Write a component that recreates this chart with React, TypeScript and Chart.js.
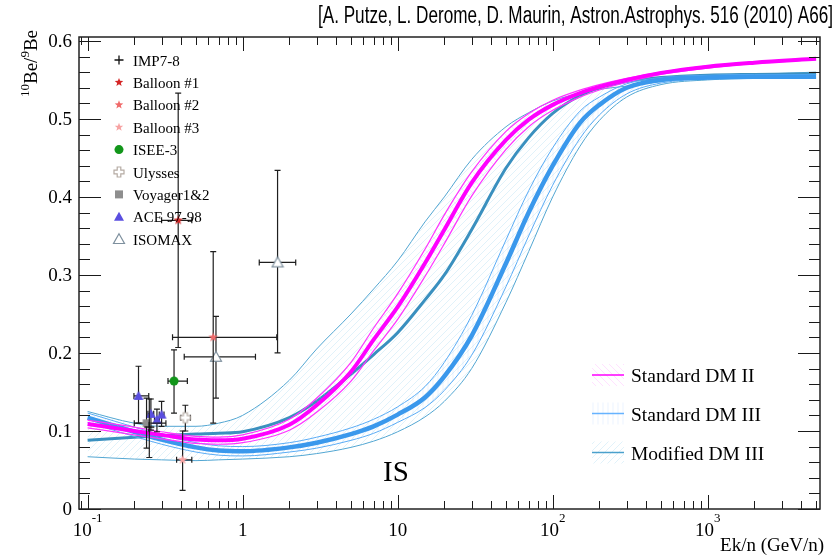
import React, { useEffect, useRef } from 'react';
import { Chart, registerables } from 'chart.js';
Chart.register(...registerables);

// ---------- model curves (Ek/n in GeV/n) ----------
const energies = [0.1, 0.2, 0.3, 0.5, 0.7, 1, 2, 3, 5, 7, 10, 15, 20, 30, 50, 70, 100, 150, 200, 300, 500, 1000, 2000, 5000];

const dm2Mid = [0.109, 0.100, 0.095, 0.089, 0.088, 0.090, 0.108, 0.133, 0.176, 0.217, 0.259, 0.315, 0.358, 0.418, 0.473, 0.499, 0.518, 0.533, 0.541, 0.550, 0.559, 0.567, 0.572, 0.577];
const dm2Up = [0.114, 0.105, 0.099, 0.093, 0.092, 0.095, 0.115, 0.142, 0.188, 0.232, 0.276, 0.333, 0.377, 0.432, 0.484, 0.507, 0.524, 0.537, 0.544, 0.552, 0.560, 0.568, 0.573, 0.578];
const dm2Low = [0.104, 0.095, 0.090, 0.084, 0.083, 0.085, 0.101, 0.124, 0.164, 0.203, 0.243, 0.298, 0.340, 0.401, 0.461, 0.490, 0.511, 0.528, 0.537, 0.547, 0.557, 0.565, 0.571, 0.576];

const dm3Mid = [0.117, 0.099, 0.089, 0.079, 0.075, 0.074, 0.079, 0.085, 0.096, 0.106, 0.121, 0.143, 0.170, 0.222, 0.315, 0.380, 0.440, 0.495, 0.518, 0.540, 0.550, 0.553, 0.554, 0.554];
const dm3Up = [0.123, 0.105, 0.095, 0.085, 0.081, 0.080, 0.085, 0.092, 0.104, 0.115, 0.131, 0.157, 0.188, 0.248, 0.345, 0.408, 0.463, 0.510, 0.528, 0.545, 0.553, 0.556, 0.557, 0.557];
const dm3Low = [0.111, 0.093, 0.083, 0.073, 0.069, 0.068, 0.073, 0.078, 0.088, 0.097, 0.111, 0.130, 0.152, 0.197, 0.285, 0.350, 0.415, 0.475, 0.505, 0.532, 0.546, 0.551, 0.552, 0.552];

const modMid = [0.088, 0.092, 0.094, 0.096, 0.097, 0.099, 0.117, 0.138, 0.173, 0.198, 0.226, 0.268, 0.300, 0.358, 0.437, 0.476, 0.507, 0.530, 0.540, 0.548, 0.553, 0.556, 0.557, 0.558];
const modUp = [0.125, 0.110, 0.106, 0.106, 0.110, 0.120, 0.165, 0.205, 0.250, 0.282, 0.318, 0.368, 0.400, 0.448, 0.490, 0.508, 0.523, 0.533, 0.538, 0.542, 0.548, 0.554, 0.557, 0.560];
const modLow = [0.067, 0.064, 0.063, 0.062, 0.063, 0.064, 0.067, 0.071, 0.079, 0.087, 0.099, 0.118, 0.138, 0.180, 0.265, 0.330, 0.400, 0.465, 0.498, 0.528, 0.544, 0.550, 0.552, 0.553];

// ---------- measurements ----------
const impE = [0.25]; const impV = [0.105]; const impElo = [0.25]; const impEhi = [0.25]; const impVlo = [0.066]; const impVhi = [0.141];
const b1E = [0.384]; const b1V = [0.370]; const b1Elo = [0.30]; const b1Ehi = [0.47]; const b1Vlo = [0.207]; const b1Vhi = [0.533];
const b2E = [0.646]; const b2V = [0.220]; const b2Elo = [0.353]; const b2Ehi = [1.66]; const b2Vlo = [0.110]; const b2Vhi = [0.330];
const b3E = [0.41]; const b3V = [0.063]; const b3Elo = [0.375]; const b3Ehi = [0.47]; const b3Vlo = [0.024]; const b3Vhi = [0.100];
const iseeE = [0.361]; const iseeV = [0.164]; const iseeElo = [0.33]; const iseeEhi = [0.44]; const iseeVlo = [0.123]; const iseeVhi = [0.204];
const ulyE = [0.427]; const ulyV = [0.117]; const ulyElo = [0.40]; const ulyEhi = [0.46]; const ulyVlo = [0.100]; const ulyVhi = [0.133];
const voyE = [0.24]; const voyV = [0.110]; const voyElo = [0.20]; const voyEhi = [0.32]; const voyVlo = [0.078]; const voyVhi = [0.142];
const aceE = [0.213, 0.256, 0.280, 0.300]; const aceV = [0.145, 0.122, 0.114, 0.121];
const aceElo = [0.199, 0.245, 0.270, 0.290]; const aceEhi = [0.248, 0.267, 0.290, 0.311];
const aceVlo = [0.110, 0.101, 0.099, 0.106]; const aceVhi = [0.183, 0.141, 0.128, 0.138];
const isoE = [0.673, 1.68]; const isoV = [0.195, 0.316]; const isoElo = [0.42, 1.28]; const isoEhi = [1.21, 2.2]; const isoVlo = [0.142, 0.200]; const isoVhi = [0.247, 0.434];

const xTickLabels = [{ v: 0.1, base: '10', sup: '-1' }, { v: 1, base: '1', sup: '' }, { v: 10, base: '10', sup: '' }, { v: 100, base: '10', sup: '2' }, { v: 1000, base: '10', sup: '3' }];
const yTickLabels = ['0', '0.1', '0.2', '0.3', '0.4', '0.5', '0.6'];
const titleText = '[A. Putze, L. Derome, D. Maurin, Astron.Astrophys. 516 (2010) A66]';
const modelNames = ['Standard DM II', 'Standard DM III', 'Modified DM III'];
const expNames = ['IMP7-8', 'Balloon #1', 'Balloon #2', 'Balloon #3', 'ISEE-3', 'Ulysses', 'Voyager1&2', 'ACE 97-98', 'ISOMAX'];

const SERIF = '"Liberation Serif", "DejaVu Serif", serif';

// ---------- marker painters ----------
type G = CanvasRenderingContext2D;
const star = (c: string, R: number) => (g: G, x: number, y: number) => {
  g.beginPath();
  for (let i = 0; i < 10; i++) {
    const r = i % 2 === 0 ? R : R * 0.42;
    const a = -Math.PI / 2 + (i * Math.PI) / 5;
    const px = x + r * Math.cos(a), py = y + r * Math.sin(a);
    if (i) g.lineTo(px, py); else g.moveTo(px, py);
  }
  g.closePath(); g.fillStyle = c; g.fill();
};
const tri = (fill: string | null, stroke: string | null, s: number) => (g: G, x: number, y: number) => {
  g.beginPath(); g.moveTo(x, y - s); g.lineTo(x + s, y + s * 0.78); g.lineTo(x - s, y + s * 0.78); g.closePath();
  if (fill) { g.fillStyle = fill; g.fill(); }
  if (stroke) { g.strokeStyle = stroke; g.lineWidth = 1.2; g.stroke(); }
};
const circ = (c: string, r: number) => (g: G, x: number, y: number) => {
  g.beginPath(); g.arc(x, y, r, 0, Math.PI * 2); g.fillStyle = c; g.fill();
};
const square = (c: string, h: number) => (g: G, x: number, y: number) => {
  g.fillStyle = c; g.fillRect(x - h, y - h, 2 * h, 2 * h);
};
const openCross = (c: string, s: number, w: number) => (g: G, x: number, y: number) => {
  g.beginPath();
  g.moveTo(x - w, y - s); g.lineTo(x + w, y - s); g.lineTo(x + w, y - w); g.lineTo(x + s, y - w);
  g.lineTo(x + s, y + w); g.lineTo(x + w, y + w); g.lineTo(x + w, y + s); g.lineTo(x - w, y + s);
  g.lineTo(x - w, y + w); g.lineTo(x - s, y + w); g.lineTo(x - s, y - w); g.lineTo(x - w, y - w); g.closePath();
  g.fillStyle = '#fff'; g.fill(); g.strokeStyle = c; g.lineWidth = 1.2; g.stroke();
};
const plus = (c: string, s: number) => (g: G, x: number, y: number) => {
  g.beginPath(); g.moveTo(x - s, y); g.lineTo(x + s, y); g.moveTo(x, y - s); g.lineTo(x, y + s);
  g.strokeStyle = c; g.lineWidth = 1.3; g.stroke();
};

const makeImg = (paint: (g: G, x: number, y: number) => void, size: number) => {
  const c = document.createElement('canvas'); c.width = size; c.height = size;
  const g = c.getContext('2d') as G; paint(g, size / 2, size / 2); return c;
};

const hatch = (ctx: G, color: string, kind: string, p: number) => {
  const c = document.createElement('canvas'); c.width = p; c.height = p;
  const g = c.getContext('2d') as G; g.strokeStyle = color; g.lineWidth = 1; g.beginPath();
  if (kind === 'v') { g.moveTo(p / 2 + 0.5, 0); g.lineTo(p / 2 + 0.5, p); }
  else if (kind === '/') { g.moveTo(-1, p + 1); g.lineTo(p + 1, -1); g.moveTo(-1, 1); g.lineTo(1, -1); g.moveTo(p - 1, p + 1); g.lineTo(p + 1, p - 1); }
  else { g.moveTo(-1, -1); g.lineTo(p + 1, p + 1); g.moveTo(p - 1, -1); g.lineTo(p + 1, 1); g.moveTo(-1, p - 1); g.lineTo(1, p + 1); }
  g.stroke();
  return ctx.createPattern(c, 'repeat') as CanvasPattern;
};

const pts = (E: number[], V: number[]) => E.map((e, i) => ({ x: e, y: V[i] }));

export default function App() {
  const ref = useRef<HTMLCanvasElement>(null);
  useEffect(() => {
    const canvas = ref.current!;
    const ctx = canvas.getContext('2d') as G;
    const MAG = '#ff00ff', MAGT = '#ff33ff';
    const BLU = '#3a98ec', BLUT = '#5aacf5';
    const TEA = '#3a90bf', TEAT = '#52a6d2';
    const patMag = hatch(ctx, 'rgba(255,120,255,0.22)', '\\', 7);
    const patBlu = hatch(ctx, 'rgba(120,175,255,0.15)', 'v', 5);
    const patTea = hatch(ctx, 'rgba(120,195,230,0.22)', '/', 7);

    const mk = {
      imp: plus('#111', 5), b1: star('#d42525', 5), b2: star('#f06a6a', 5), b3: star('#f7a3a3', 5),
      isee: circ('#12961a', 4.5), uly: openCross('#b5aba3', 5, 2), voy: square('#8e8e8e', 3.8),
      ace: tri('#5a4ee0', null, 5), iso: tri('#ffffff', '#7e909e', 5.5),
    };
    const legendPainters = [plus('#111', 4.5), star('#d42525', 4.5), star('#f06a6a', 4.5), star('#f7a3a3', 4.5),
      circ('#12961a', 4.5), openCross('#b5aba3', 5, 1.8), square('#8e8e8e', 4), tri('#5a4ee0', null, 5), tri('#ffffff', '#7e909e', 5.5)];

    const line = (label: string, data: number[], color: string, w: number, order: number, fill: any = false, bg: any = undefined) => ({
      type: 'line', label, data: pts(energies, data), borderColor: color, borderWidth: w, pointRadius: 0,
      cubicInterpolationMode: 'monotone', fill, backgroundColor: bg, order, borderJoinStyle: 'round',
    });
    const scat = (label: string, E: number[], V: number[], paint: any, err: any) => ({
      type: 'scatter', label, data: pts(E, V), pointStyle: makeImg(paint, 14), pointRadius: 5, order: 0, errors: err,
    });

    const datasets: any[] = [
      line('Modified DM III upper', modUp, TEAT, 1, 6, '+2', patTea),
      line('Modified DM III', modMid, TEA, 3, 5),
      line('Modified DM III lower', modLow, TEAT, 1, 6),
      line('Standard DM III upper', dm3Up, BLUT, 1, 4, '+2', patBlu),
      line('Standard DM III', dm3Mid, BLU, 4.5, 3),
      line('Standard DM III lower', dm3Low, BLUT, 1, 4),
      line('Standard DM II upper', dm2Up, MAGT, 1.2, 2, '+2', patMag),
      line('Standard DM II', dm2Mid, MAG, 4, 1),
      line('Standard DM II lower', dm2Low, MAGT, 1.2, 2),
      scat('IMP7-8', impE, impV, mk.imp, [impElo, impEhi, impVlo, impVhi]),
      scat('Voyager1&2', voyE, voyV, mk.voy, [voyElo, voyEhi, voyVlo, voyVhi]),
      scat('ACE 97-98', aceE, aceV, mk.ace, [aceElo, aceEhi, aceVlo, aceVhi]),
      scat('Balloon #1', b1E, b1V, mk.b1, [b1Elo, b1Ehi, b1Vlo, b1Vhi]),
      scat('Balloon #2', b2E, b2V, mk.b2, [b2Elo, b2Ehi, b2Vlo, b2Vhi]),
      scat('Balloon #3', b3E, b3V, mk.b3, [b3Elo, b3Ehi, b3Vlo, b3Vhi]),
      scat('ISEE-3', iseeE, iseeV, mk.isee, [iseeElo, iseeEhi, iseeVlo, iseeVhi]),
      scat('Ulysses', ulyE, ulyV, mk.uly, [ulyElo, ulyEhi, ulyVlo, ulyVhi]),
      scat('ISOMAX', isoE, isoV, mk.iso, [isoElo, isoEhi, isoVlo, isoVhi]),
    ];

    const errPlugin = {
      id: 'errbars',
      beforeDatasetDraw(chart: any, args: any) {
        const ds = chart.data.datasets[args.index];
        if (!ds.errors) return;
        const [elo, ehi, vlo, vhi] = ds.errors;
        const { x, y } = chart.scales; const g = chart.ctx; const a = chart.chartArea;
        g.save(); g.beginPath(); g.rect(a.left, a.top, a.right - a.left, a.bottom - a.top); g.clip();
        g.strokeStyle = '#1e1e1e'; g.lineWidth = 1.2; g.beginPath();
        ds.data.forEach((p: any, i: number) => {
          const px = x.getPixelForValue(p.x), py = y.getPixelForValue(p.y);
          const x0 = x.getPixelForValue(elo[i]), x1 = x.getPixelForValue(ehi[i]);
          const y0 = y.getPixelForValue(vlo[i]), y1 = y.getPixelForValue(vhi[i]);
          if (x1 - x0 > 1) {
            g.moveTo(x0, py); g.lineTo(x1, py);
            g.moveTo(x0, py - 3); g.lineTo(x0, py + 3); g.moveTo(x1, py - 3); g.lineTo(x1, py + 3);
          }
          g.moveTo(px, y0); g.lineTo(px, y1);
          g.moveTo(px - 3, y0); g.lineTo(px + 3, y0); g.moveTo(px - 3, y1); g.lineTo(px + 3, y1);
        });
        g.stroke(); g.restore();
      },
    };

    const framePlugin = {
      id: 'frame',
      afterDraw(chart: any) {
        const g: G = chart.ctx; const a = chart.chartArea; const { x, y } = chart.scales;
        g.save();
        // ticks
        g.strokeStyle = '#1a1a1a'; g.lineWidth = 1; g.beginPath();
        for (let d = -2; d <= 3; d++) {
          for (let m = 1; m <= 9; m++) {
            const v = m * Math.pow(10, d);
            if (v < x.min || v > x.max) continue;
            const px = Math.round(x.getPixelForValue(v)) + 0.5;
            const len = m === 1 ? 14 : 8;
            g.moveTo(px, a.bottom); g.lineTo(px, a.bottom - len);
            g.moveTo(px, a.top); g.lineTo(px, a.top + len);
          }
        }
        for (let i = 0; i <= 30; i++) {
          const v = i * 0.02; if (v > y.max) break;
          const py = Math.round(y.getPixelForValue(v)) + 0.5;
          const len = i % 5 === 0 ? 22 : 11;
          g.moveTo(a.left, py); g.lineTo(a.left + len, py);
          g.moveTo(a.right, py); g.lineTo(a.right - len, py);
        }
        g.stroke();
        g.lineWidth = 1.5; g.strokeStyle = '#222';
        g.strokeRect(a.left, a.top, a.right - a.left, a.bottom - a.top);

        g.fillStyle = '#000';
        // y tick labels
        g.font = `19px ${SERIF}`; g.textAlign = 'right'; g.textBaseline = 'middle';
        yTickLabels.forEach((t, i) => g.fillText(t, a.left - 7, y.getPixelForValue(i * 0.1) + 1));
        // x tick labels
        g.textBaseline = 'alphabetic';
        xTickLabels.forEach((t) => {
          g.font = `19px ${SERIF}`; const wb = g.measureText(t.base).width;
          g.font = `13px ${SERIF}`; const ws = t.sup ? g.measureText(t.sup).width : 0;
          const cx = x.getPixelForValue(t.v); const left = cx - (wb + ws) / 2;
          g.textAlign = 'left';
          g.font = `19px ${SERIF}`; g.fillText(t.base, left, 536);
          if (t.sup) { g.font = `13px ${SERIF}`; g.fillText(t.sup, left + wb, 522); }
        });
        // x title
        g.font = `19px ${SERIF}`; g.textAlign = 'right'; g.fillText('Ek/n (GeV/n)', 824, 551);
        // y title (rotated)
        g.save(); g.translate(37, 97); g.rotate(-Math.PI / 2); g.textAlign = 'left';
        let cx = 0;
        g.font = `13px ${SERIF}`; g.fillText('10', cx, -8); cx += g.measureText('10').width;
        g.font = `19px ${SERIF}`; g.fillText('Be/', cx, 0); cx += g.measureText('Be/').width;
        g.font = `13px ${SERIF}`; g.fillText('9', cx, -8); cx += g.measureText('9').width;
        g.font = `19px ${SERIF}`; g.fillText('Be', cx, 0);
        g.restore();
        // title
        g.font = '23px "Liberation Sans", Arial, sans-serif'; g.textAlign = 'right';
        g.fillText(titleText, 833, 23, 515);
        // IS label
        g.font = `29px ${SERIF}`; g.textAlign = 'left'; g.fillText('IS', 383, 481);

        // experiment legend
        g.font = `15px ${SERIF}`;
        expNames.forEach((n, i) => {
          const cy = 60 + i * 22.4;
          legendPainters[i](g, 119, cy);
          g.fillStyle = '#000'; g.fillText(n, 133, cy + 5.5);
        });
        // model legend
        const pats = [patMag, patBlu, patTea]; const cols = [MAG, '#66b3ff', '#4aa0cc'];
        g.font = `19.5px ${SERIF}`;
        modelNames.forEach((n, i) => {
          const cy = [375, 413.5, 452.5][i];
          g.fillStyle = pats[i]; g.fillRect(592, cy - 11, 32, 22);
          g.strokeStyle = cols[i]; g.lineWidth = 1.5; g.beginPath(); g.moveTo(592, cy); g.lineTo(624, cy); g.stroke();
          g.fillStyle = '#000'; g.fillText(n, 631, cy + 7);
        });
        g.restore();
      },
    };

    const chart = new Chart(canvas, {
      type: 'line',
      data: { datasets },
      options: {
        responsive: false, animation: false, devicePixelRatio: 1, events: [],
        layout: { padding: { left: 79, right: 18, top: 37, bottom: 46 } },
        scales: {
          x: { type: 'logarithmic', min: 0.088, max: 5300, display: false },
          y: { type: 'linear', min: 0, max: 0.605, display: false },
        },
        plugins: { legend: { display: false }, tooltip: { enabled: false }, title: { display: false } },
      } as any,
      plugins: [errPlugin, framePlugin] as any,
    } as any);
    return () => chart.destroy();
  }, []);
  return (
    <div style={{ position: 'fixed', left: 0, top: 0, width: 838, height: 555, background: '#fff' }}>
      <canvas ref={ref} width={838} height={555} style={{ display: 'block' }} />
    </div>
  );
}
